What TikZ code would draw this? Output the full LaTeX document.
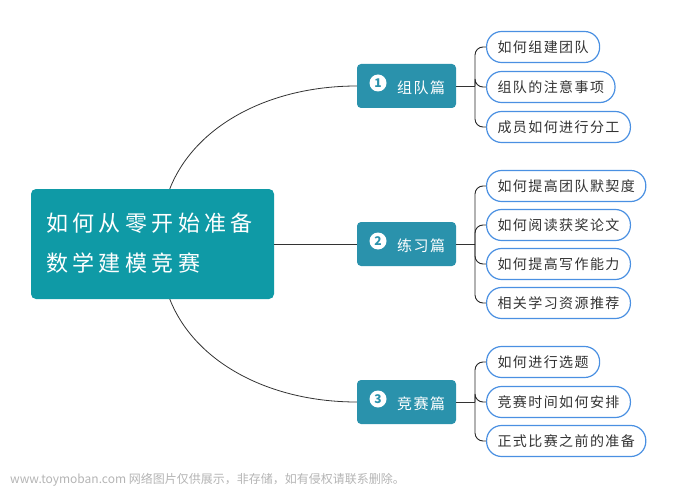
\documentclass[tikz,border=0pt]{standalone}
\usepackage{fontspec}
\setmainfont{Noto Sans CJK SC}
\newfontfamily\cjkwide[LetterSpace=10]{Noto Sans CJK SC}
\newfontfamily\cjkmain[LetterSpace=20]{Noto Sans CJK SC}
\definecolor{mainteal}{HTML}{0F9AA6}
\definecolor{catteal}{HTML}{2A92AC}
\definecolor{leafblue}{HTML}{4A90E2}
\definecolor{linegray}{HTML}{333333}
\definecolor{wmgray}{HTML}{B4B4B4}
\begin{document}
\begin{tikzpicture}[x=1pt,y=-1pt,
  mainbox/.style={fill=mainteal,rounded corners=5pt,minimum width=243pt,minimum height=110pt,inner sep=0pt},
  mainline/.style={anchor=west,text=white,font=\cjkmain\fontsize{22}{24}\selectfont,inner sep=0pt},
  catbox/.style={fill=catteal,rounded corners=4pt,minimum width=99pt,minimum height=44pt,inner sep=0pt},
  catnum/.style={circle,fill=white,text=catteal,minimum size=17pt,inner sep=0pt,font=\fontsize{12}{12}\selectfont\bfseries},
  cattext/.style={text=white,font=\cjkwide\fontsize{15}{16}\selectfont,inner sep=0pt},
  leaf/.style={draw=leafblue,line width=1.2pt,fill=white,rounded corners=15pt,minimum height=31pt,inner xsep=11pt,inner ysep=0pt,anchor=west,text=black!80,font=\cjkwide\fontsize{14}{15}\selectfont},
  conn/.style={draw=linegray,line width=0.8pt},
  brace/.style={draw=black!85,line width=0.9pt,rounded corners=8pt}]
\useasboundingbox (0,0) rectangle (679,489);

% main node
\node[mainbox] (main) at (152.5,244) {};
\node[mainline] (m1) at (46,223) {如何从零开始准备};
\node[mainline] (m2) at (46,263) {数学建模竞赛};

% categories
\node[catbox] (cat1) at (406.5,86) {};
\node[catnum] (n1) at (378,83) {1};
\node[cattext] (t1) at (421,88) {组队篇};
\node[catbox] (cat2) at (406.5,244) {};
\node[catnum] (n2) at (378,241) {2};
\node[cattext] (t2) at (421,246) {练习篇};
\node[catbox] (cat3) at (406.5,402) {};
\node[catnum] (n3) at (378,399) {3};
\node[cattext] (t3) at (421,404) {竞赛篇};

% main connectors
\draw[conn] ([xshift=139pt]main.north west) .. controls (195,125) and (270,86) .. (cat1.west);
\draw[conn] (main.east) -- (cat2.west);
\draw[conn] ([xshift=139pt]main.south west) .. controls (195,363) and (270,402) .. (cat3.west);

% leaves group 1
\node[leaf] (l11) at (486,47) {如何组建团队};
\node[leaf] (l12) at (486,87) {组队的注意事项};
\node[leaf] (l13) at (486,127) {成员如何进行分工};
% group 2
\node[leaf] (l21) at (486,186) {如何提高团队默契度};
\node[leaf] (l22) at (486,225) {如何阅读获奖论文};
\node[leaf] (l23) at (486,264) {如何提高写作能力};
\node[leaf] (l24) at (486,303) {相关学习资源推荐};
% group 3
\node[leaf] (l31) at (486,362) {如何进行选题};
\node[leaf] (l32) at (486,402) {竞赛时间如何安排};
\node[leaf] (l33) at (486,441) {正式比赛之前的准备};

% braces
\coordinate (j1) at (475,86);
\coordinate (j2) at (475,244);
\coordinate (j3) at (475,402);
\draw[conn] (cat1.east) -- (j1);
\draw[conn] (cat2.east) -- (j2);
\draw[conn] (cat3.east) -- (j3);
\foreach \l in {l11,l12,l13}{\draw[brace] (j1) |- (\l.west);}
\foreach \l in {l21,l22,l23,l24}{\draw[brace] (j2) |- (\l.west);}
\foreach \l in {l31,l32,l33}{\draw[brace] (j3) |- (\l.west);}

% watermark
\node[anchor=west,text=wmgray,inner sep=0pt,font=\fontsize{12}{13}\selectfont] (wm) at (10,480) {www.toymoban.com 网络图片仅供展示，非存储，如有侵权请联系删除。};
\end{tikzpicture}
\end{document}
